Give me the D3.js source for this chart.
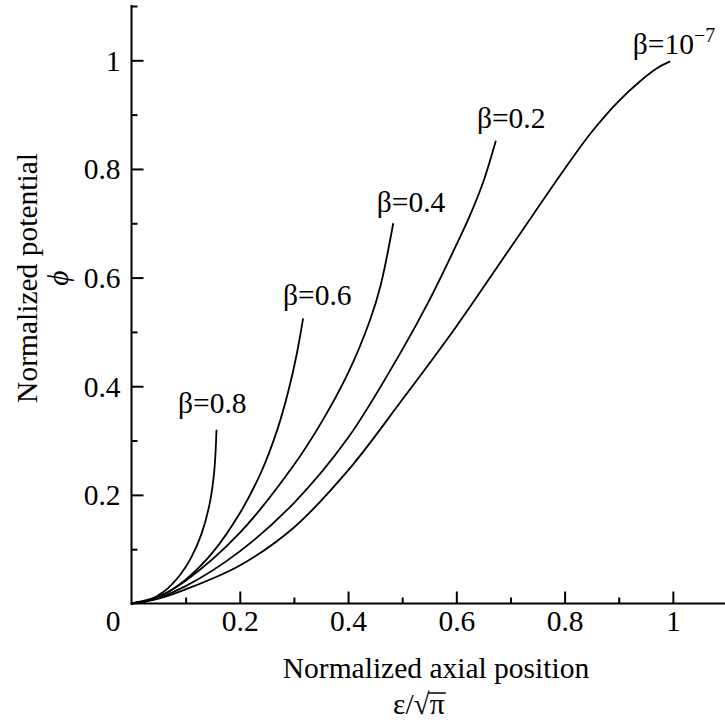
<!DOCTYPE html>
<html>
<head>
<meta charset="utf-8">
<script src="https://cdn.jsdelivr.net/npm/d3@7"></script>
<style>
  body { margin: 0; background: #fff; }
  text { font-family: "Liberation Serif", "Times New Roman", serif; fill: #000; }
</style>
</head>
<body>
<div id="container"></div>
<script>
const WIDTH = 725;
const HEIGHT = 722;
const FONT = 29.5;

// curve data: [position, potential]
const beta08 = [[0, 0], [0.03, 0.005], [0.06, 0.022], [0.09, 0.053], [0.11, 0.084], [0.13, 0.13], [0.145, 0.187], [0.153, 0.245], [0.157, 0.32]];
const beta06 = [[0, 0], [0.05, 0.012], [0.1, 0.044], [0.15, 0.094], [0.2, 0.166], [0.24, 0.243], [0.27, 0.322], [0.29, 0.392], [0.305, 0.458], [0.317, 0.525]];
const beta04 = [[0, 0], [0.05, 0.013], [0.1, 0.042], [0.2, 0.13], [0.3, 0.255], [0.35, 0.332], [0.4, 0.424], [0.44, 0.52], [0.46, 0.585], [0.4835, 0.7]];
const beta02 = [[0, 0], [0.05, 0.011], [0.1, 0.032], [0.2, 0.096], [0.3, 0.185], [0.4, 0.305], [0.5, 0.467], [0.55, 0.558], [0.6, 0.66], [0.625, 0.714], [0.65, 0.777], [0.673, 0.852]];
const beta1e7 = [[0, 0], [0.05, 0.009], [0.1, 0.026], [0.2, 0.07], [0.3, 0.14], [0.4, 0.245], [0.5, 0.375], [0.6, 0.51], [0.7, 0.655], [0.8, 0.8], [0.85, 0.868], [0.9, 0.925], [0.94, 0.962], [0.97, 0.985], [0.995, 0.998]];

const series = [beta08, beta06, beta04, beta02, beta1e7];
const curveLabels = ["β=0.8", "β=0.6", "β=0.4", "β=0.2", "β=10"];
// label anchor in data units (left edge of text, baseline)
const labelPos = [[0.086, 0.35], [0.28, 0.549], [0.453, 0.72], [0.638, 0.876], [0.926, 1.012]];

const xMajor = [0.2, 0.4, 0.6, 0.8, 1];
const xMinor = [0.1, 0.3, 0.5, 0.7, 0.9];
const yMajor = [0.2, 0.4, 0.6, 0.8, 1];
const yMinor = [0.1, 0.3, 0.5, 0.7, 0.9, 1.1];

const svg = d3
  .select("#container")
  .append("svg")
  .attr("width", WIDTH)
  .attr("height", HEIGHT)
  .attr("font-family", "Liberation Serif");

const xScale = d3.scaleLinear().domain([0, 1.1]).range([131.5, 727]);
const yScale = d3.scaleLinear().domain([0, 1.1]).range([603.5, 6]);

// minor ticks first, then major ticks with labels (ticks point inward)
const xAxisMinor = d3.axisTop(xScale).tickValues(xMinor).tickSize(6).tickFormat("");
const xAxis = d3.axisTop(xScale).tickValues(xMajor).tickSize(12).tickFormat(d3.format("~g"));
const yAxisMinor = d3.axisRight(yScale).tickValues(yMinor).tickSize(6).tickFormat("");
const yAxis = d3.axisRight(yScale).tickValues(yMajor).tickSize(12).tickFormat(d3.format("~g"));

function styleAxis(g) {
  g.attr("font-family", "Liberation Serif");
  g.select(".domain").remove();
  g.selectAll(".tick line").attr("stroke", "#000").attr("stroke-width", 2);
}

svg.append("g")
  .attr("transform", `translate(0,${yScale(0)})`)
  .call(xAxisMinor)
  .call(styleAxis);

svg.append("g")
  .attr("class", "x axis")
  .attr("transform", `translate(0,${yScale(0)})`)
  .call(xAxis)
  .call(styleAxis)
  .selectAll(".tick text")
  .attr("y", 27)
  .attr("dy", 0)
  .style("font-size", FONT + "px");

svg.append("g")
  .attr("transform", `translate(${xScale(0)},0)`)
  .call(yAxisMinor)
  .call(styleAxis);

svg.append("g")
  .attr("class", "y axis")
  .attr("transform", `translate(${xScale(0)},0)`)
  .call(yAxis)
  .call(styleAxis)
  .selectAll(".tick text")
  .attr("x", -11)
  .attr("dy", 10)
  .attr("text-anchor", "end")
  .style("font-size", FONT + "px");

// axis lines
svg.append("line")
  .attr("x1", xScale(0) - 1)
  .attr("x2", WIDTH)
  .attr("y1", yScale(0))
  .attr("y2", yScale(0))
  .attr("stroke", "#000")
  .attr("stroke-width", 2);

svg.append("line")
  .attr("x1", xScale(0))
  .attr("x2", xScale(0))
  .attr("y1", yScale(0) + 1)
  .attr("y2", yScale(1.1) - 1)
  .attr("stroke", "#000")
  .attr("stroke-width", 2);

// shared origin label
svg.append("text")
  .attr("x", xScale(0) - 11)
  .attr("y", yScale(0) + 27)
  .attr("text-anchor", "end")
  .style("font-size", FONT + "px")
  .text("0");

// curves
const line = d3
  .line()
  .x(d => xScale(d[0]))
  .y(d => yScale(d[1]))
  .curve(d3.curveCatmullRom.alpha(0.5));

svg.selectAll(".curve")
  .data(series)
  .enter()
  .append("path")
  .attr("class", "curve")
  .attr("d", line)
  .attr("fill", "none")
  .attr("stroke", "#000")
  .attr("stroke-width", 1.8);

// curve labels
const labels = svg.selectAll(".clabel")
  .data(curveLabels)
  .enter()
  .append("text")
  .attr("class", "clabel")
  .attr("x", (d, i) => xScale(labelPos[i][0]))
  .attr("y", (d, i) => yScale(labelPos[i][1]))
  .style("font-size", FONT + "px")
  .text(d => d);

// exponent on the last label
labels.filter((d, i) => i === curveLabels.length - 1)
  .append("tspan")
  .attr("dy", -12)
  .style("font-size", "20px")
  .text("−7");

// axis titles
svg.append("text")
  .attr("x", 436)
  .attr("y", 678)
  .attr("text-anchor", "middle")
  .style("font-size", FONT + "px")
  .text("Normalized axial position");

const sub = svg.append("text")
  .attr("x", 393)
  .attr("y", 714)
  .style("font-size", FONT + "px");
sub.append("tspan").text("ε/√");
const piSpan = sub.append("tspan").text("π");
const pb = piSpan.node().getBBox();
svg.append("line")
  .attr("x1", pb.x - 1)
  .attr("x2", pb.x + pb.width + 1)
  .attr("y1", pb.y + 5)
  .attr("y2", pb.y + 5)
  .attr("stroke", "#000")
  .attr("stroke-width", 1.5);

svg.append("text")
  .attr("transform", `translate(37,278) rotate(-90)`)
  .attr("text-anchor", "middle")
  .style("font-size", FONT + "px")
  .text("Normalized potential");

svg.append("text")
  .attr("transform", `translate(68,278) rotate(-90)`)
  .attr("text-anchor", "middle")
  .style("font-size", FONT + "px")
  .style("font-style", "italic")
  .text("ϕ");
</script>
</body>
</html>
